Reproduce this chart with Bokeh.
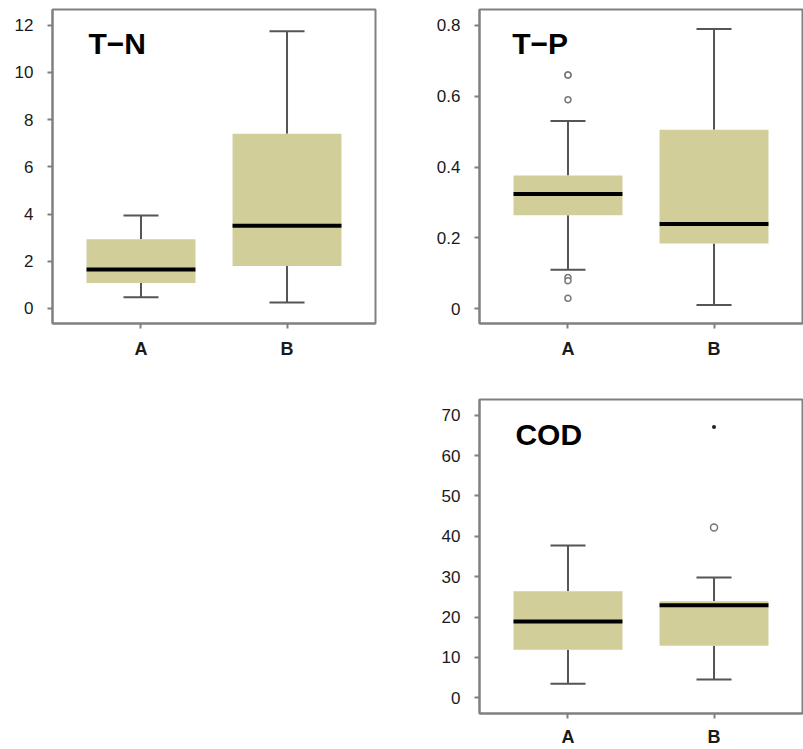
from bokeh.plotting import figure
from bokeh.models import FactorRange, Range1d, FixedTicker, Label, Spacer
from bokeh.layouts import column, row
from bokeh.embed import file_html
from bokeh.resources import INLINE

groups = ["A", "B"]

# T-N
tn_lower = [0.47, 0.25]
tn_q1 = [1.08, 1.80]
tn_median = [1.65, 3.50]
tn_q3 = [2.93, 7.40]
tn_upper = [3.94, 11.75]
tn_ticks = [0, 2, 4, 6, 8, 10, 12]

# T-P
tp_lower = [0.110, 0.010]
tp_q1 = [0.264, 0.184]
tp_median = [0.324, 0.239]
tp_q3 = [0.376, 0.505]
tp_upper = [0.530, 0.790]
tp_out_group = ["A", "A", "A", "A", "A", "A"]
tp_out_value = [0.660, 0.660, 0.590, 0.088, 0.079, 0.029]
tp_ticks = [0, 0.2, 0.4, 0.6, 0.8]

# COD
cod_lower = [3.5, 4.5]
cod_q1 = [11.9, 12.9]
cod_median = [18.9, 22.9]
cod_q3 = [26.4, 23.9]
cod_upper = [37.7, 29.8]
cod_out_group = ["B"]
cod_out_value = [42.2]
cod_ext_group = ["B"]
cod_ext_value = [67.1]
cod_ticks = [0, 10, 20, 30, 40, 50, 60, 70]

FONT = "Liberation Sans"
BOX = "#D2CE99"
WHISK = "#555555"
FRAME = "#808080"


def panel(title, lower, q1, med, q3, upper, ticks, yr, width, height,
          bl, br, bt, bb, tx, ty, standoff_x):
    p = figure(x_range=FactorRange(factors=groups, range_padding=0.106,
                                   range_padding_units="absolute"),
               y_range=Range1d(*yr), width=width, height=height,
               output_backend="svg", toolbar_location=None,
               min_border_left=bl, min_border_right=br,
               min_border_top=bt, min_border_bottom=bb)
    p.xgrid.visible = False
    p.ygrid.visible = False
    p.background_fill_color = "white"
    p.border_fill_color = "white"
    p.outline_line_color = FRAME
    p.outline_line_width = 2

    # whisker stems
    p.segment(x0=groups, y0=q3, x1=groups, y1=upper, line_color=WHISK, line_width=2)
    p.segment(x0=groups, y0=lower, x1=groups, y1=q1, line_color=WHISK, line_width=2)
    # caps
    p.rect(x=groups, y=upper, width=0.24, height=2, height_units="screen",
           fill_color=WHISK, line_color=None)
    p.rect(x=groups, y=lower, width=0.24, height=2, height_units="screen",
           fill_color=WHISK, line_color=None)
    # boxes
    p.vbar(x=groups, bottom=q1, top=q3, width=0.746, fill_color=BOX, line_color=None)
    # medians
    p.rect(x=groups, y=med, width=0.746, height=4, height_units="screen",
           fill_color="black", line_color=None)

    p.add_layout(Label(x=tx, y=ty, text=title, text_font=FONT,
                       text_font_style="bold", text_font_size="30px",
                       text_color="black", text_baseline="alphabetic"))

    for ax in (p.xaxis, p.yaxis):
        ax.axis_line_color = FRAME
        ax.axis_line_width = 2
        ax.major_tick_line_color = FRAME
        ax.major_tick_line_width = 2
        ax.major_tick_out = 5
        ax.major_tick_in = 0
        ax.minor_tick_line_color = None
        ax.major_label_text_font = FONT
        ax.major_label_text_color = "#1a1a1a"
    p.yaxis.ticker = FixedTicker(ticks=ticks)
    p.yaxis.major_label_text_font_size = "17px"
    p.yaxis.major_label_standoff = 14
    p.yaxis.major_label_overrides = {0: "0"}
    p.xaxis.major_label_text_font_size = "18px"
    p.xaxis.major_label_text_font_style = "bold"
    p.xaxis.major_label_standoff = standoff_x
    return p


p1 = panel("T\u2212N", tn_lower, tn_q1, tn_median, tn_q3, tn_upper, tn_ticks,
           (-0.64, 12.67), 420, 370, 52, 45, 9, 47, 0.14, 11.21, 10)

p2 = panel("T\u2212P", tp_lower, tp_q1, tp_median, tp_q3, tp_upper, tp_ticks,
           (-0.042, 0.845), 383, 370, 59, 1, 9, 47, 0.118, 0.748, 10)
p2.scatter(x=tp_out_group, y=tp_out_value, marker="circle", size=6,
           fill_color="white", line_color="#777777", line_width=1.5)

p3 = panel("COD", cod_lower, cod_q1, cod_median, cod_q3, cod_upper, cod_ticks,
           (-3.9, 73.9), 383, 379, 59, 1, 29, 35, 0.14, 65.2, 8)
p3.scatter(x=cod_out_group, y=cod_out_value, marker="circle", size=7,
           fill_color="white", line_color="#777777", line_width=1.5)
p3.scatter(x=cod_ext_group, y=cod_ext_value, marker="circle", size=4,
           fill_color="#222222", line_color=None)

layout = column(row(p1, p2), row(Spacer(width=420, height=379), p3))

open("out.html", "w").write(file_html(layout, INLINE))
